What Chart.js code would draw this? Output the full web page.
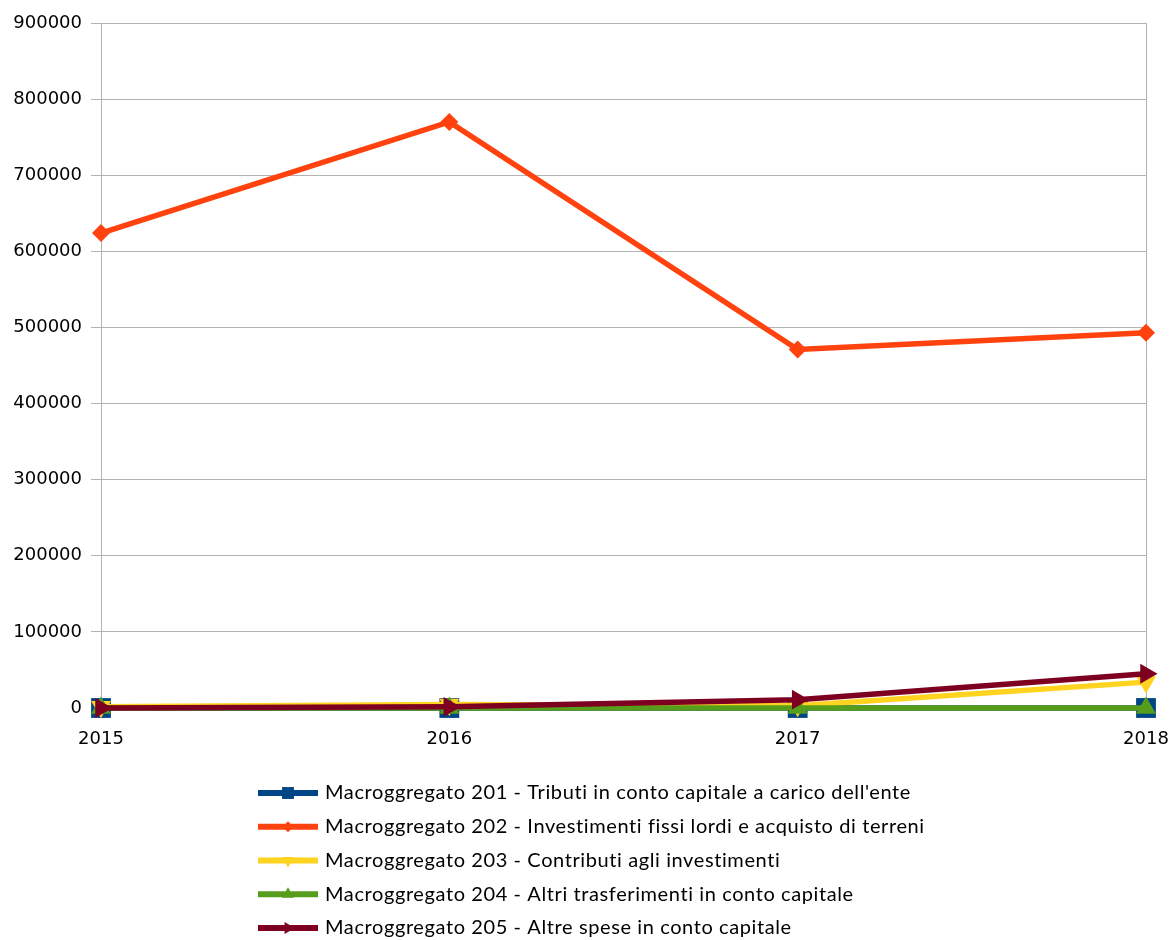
<!DOCTYPE html>
<html>
<head>
<meta charset="utf-8">
<script src="https://cdn.jsdelivr.net/npm/chart.js@4"></script>
<style>
    html, body { margin: 0; padding: 0; background: #fff; }
    #wrap { width: 1169px; height: 940px; }
</style>
</head>
<body>
<div id="wrap"><canvas id="spesaChart"></canvas></div>
<script>
// Dati
const anni = ['2015', '2016', '2017', '2018'];
const nomi = [
    'Macroggregato 201 - Tributi in conto capitale a carico dell\'ente',
    'Macroggregato 202 - Investimenti fissi lordi e acquisto di terreni',
    'Macroggregato 203 - Contributi agli investimenti',
    'Macroggregato 204 - Altri trasferimenti in conto capitale',
    'Macroggregato 205 - Altre spese in conto capitale'
];
const macro201 = [0, 0, 0, 0];
const macro202 = [624000, 770000, 471000, 493000];
const macro203 = [1500, 4500, 3000, 34000];
const macro204 = [0, 0, 0, 0];
const macro205 = [0, 1500, 11000, 45000];
const yMin = 0;
const yMax = 900000;
const yStep = 100000;

const colori = ['#004586', '#ff420e', '#ffd320', '#579d1c', '#7e0021'];
const marcatori = [
    { style: 'rect', radius: 14, rotation: 0 },
    { style: 'rectRot', radius: 9, rotation: 0 },
    { style: 'triangle', radius: 11.5, rotation: 180 },
    { style: 'triangle', radius: 11.5, rotation: 0 },
    { style: 'triangle', radius: 11.5, rotation: 90 }
];
const serie = [macro201, macro202, macro203, macro204, macro205];

const grigio = '#b3b3b3';
const fontAssi = { family: 'DejaVu Sans', size: 18 };

// Legenda disegnata a colonna sotto il grafico
const legendaColonna = {
    id: 'legendaColonna',
    afterDraw(chart) {
        const ctx = chart.ctx;
        ctx.save();
        chart.data.datasets.forEach((ds, i) => {
            const y = 793 + i * 33.75;
            ctx.strokeStyle = ds.borderColor;
            ctx.lineWidth = 6;
            ctx.beginPath();
            ctx.moveTo(258, y);
            ctx.lineTo(318, y);
            ctx.stroke();
            ctx.fillStyle = ds.borderColor;
            Chart.helpers.drawPoint(ctx, {
                pointStyle: ds.pointStyle,
                radius: ds.pointRadius * 0.6,
                rotation: ds.pointRotation,
                borderWidth: 0
            }, 288, y);
            ctx.fillStyle = '#000';
            ctx.font = '20px Lato';
            ctx.letterSpacing = '0.6px';
            ctx.textBaseline = 'middle';
            ctx.textAlign = 'left';
            ctx.fillText(ds.label, 325, y);
        });
        ctx.restore();
    }
};

const datasets = serie.map((valori, i) => ({
    label: nomi[i],
    data: valori,
    borderColor: colori[i],
    backgroundColor: colori[i],
    borderWidth: 5.5,
    pointStyle: marcatori[i].style,
    pointRadius: marcatori[i].radius,
    pointHoverRadius: marcatori[i].radius,
    pointRotation: marcatori[i].rotation,
    pointBorderWidth: 0,
    tension: 0,
    clip: false,
    order: 5 - i
}));

const ctx = document.getElementById('spesaChart').getContext('2d');
new Chart(ctx, {
    type: 'line',
    data: { labels: anni, datasets: datasets },
    options: {
        responsive: true,
        maintainAspectRatio: false,
        animation: false,
        layout: { padding: { top: 23, right: 23, bottom: 192, left: 0 } },
        plugins: {
            legend: { display: false },
            tooltip: { enabled: false }
        },
        scales: {
            x: {
                offset: false,
                grid: {
                    color: c => (c.index === 0 || c.index === anni.length - 1) ? grigio : 'rgba(0,0,0,0)',
                    tickColor: grigio,
                    tickLength: 10
                },
                border: { color: grigio },
                ticks: { color: '#000', font: fontAssi, padding: 11, maxRotation: 0 },
                afterFit: s => {
                    s.height = 40;
                    s.paddingLeft = 0;
                    s.paddingRight = 0;
                }
            },
            y: {
                min: yMin,
                max: yMax,
                grid: { color: grigio, tickLength: 10 },
                border: { color: grigio },
                ticks: {
                    stepSize: yStep,
                    color: '#000',
                    font: fontAssi,
                    padding: 9,
                    callback: v => String(v)
                },
                afterFit: s => {
                    s.width = 101;
                    s.paddingTop = 0;
                    s.paddingBottom = 0;
                }
            }
        }
    },
    plugins: [legendaColonna]
});
</script>
</body>
</html>
